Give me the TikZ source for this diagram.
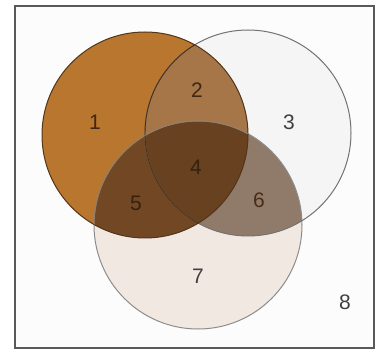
\documentclass[tikz,border=0pt]{standalone}
\usepackage{fontspec}
\setmainfont{Liberation Sans}
\begin{document}
\begin{tikzpicture}[x=1pt,y=-1pt,
  lbl/.style={font=\fontsize{21}{23}\selectfont, text=#1},
  lbl/.default={black!75}]
\definecolor{cOne}{RGB}{184,118,46}
\definecolor{cTwo}{RGB}{166,118,72}
\definecolor{cThree}{RGB}{246,245,246}
\definecolor{cFour}{RGB}{104,66,32}
\definecolor{cFive}{RGB}{114,72,36}
\definecolor{cSix}{RGB}{144,122,106}
\definecolor{cSeven}{RGB}{241,232,226}
\definecolor{cBg}{RGB}{252,252,252}
\fill[white] (0,0) rectangle (382,352);
\useasboundingbox (0,0) rectangle (382,352);
\fill[cBg] (15,6) rectangle (374,348);
\def\ca{(145,135) circle (103)}
\def\cb{(248,133) circle (103)}
\def\cc{(198,225) circle (104)}
% base fills
\fill[cThree] \cb;
\fill[cSeven] \cc;
\fill[cOne] \ca;
\begin{scope}\clip \cb; \fill[cSix] \cc; \end{scope}
\begin{scope}\clip \ca; \fill[cTwo] \cb; \end{scope}
\begin{scope}\clip \ca; \fill[cFive] \cc; \end{scope}
\begin{scope}\clip \ca; \clip \cb; \fill[cFour] \cc; \end{scope}
% outlines
\draw[black!45, line width=1pt] \cc;
\draw[black!55, line width=1pt] \cb;
\draw[cFour!80!black, line width=1pt] \ca;
\begin{scope}\clip \ca; \draw[cFour!70!black, line width=0.9pt] \cb; \draw[cFour!70, line width=0.6pt] \cc; \end{scope}
% frame
\draw[black!65, line width=1.6pt] (15,6) rectangle (374,348);
% labels
\node[lbl={cFour!60!black}] (n1) at (95,122) {1};
\node[lbl={cFour!60!black}] (n2) at (197,90) {2};
\node[lbl] (n3) at (289,122) {3};
\node[lbl={cFour!50!black}] (n4) at (196,167) {4};
\node[lbl={cFour!50!black}] (n5) at (136,203) {5};
\node[lbl={cFour!70!black}] (n6) at (259,200) {6};
\node[lbl] (n7) at (198,276) {7};
\node[lbl] (n8) at (345,302) {8};
\end{tikzpicture}
\end{document}
